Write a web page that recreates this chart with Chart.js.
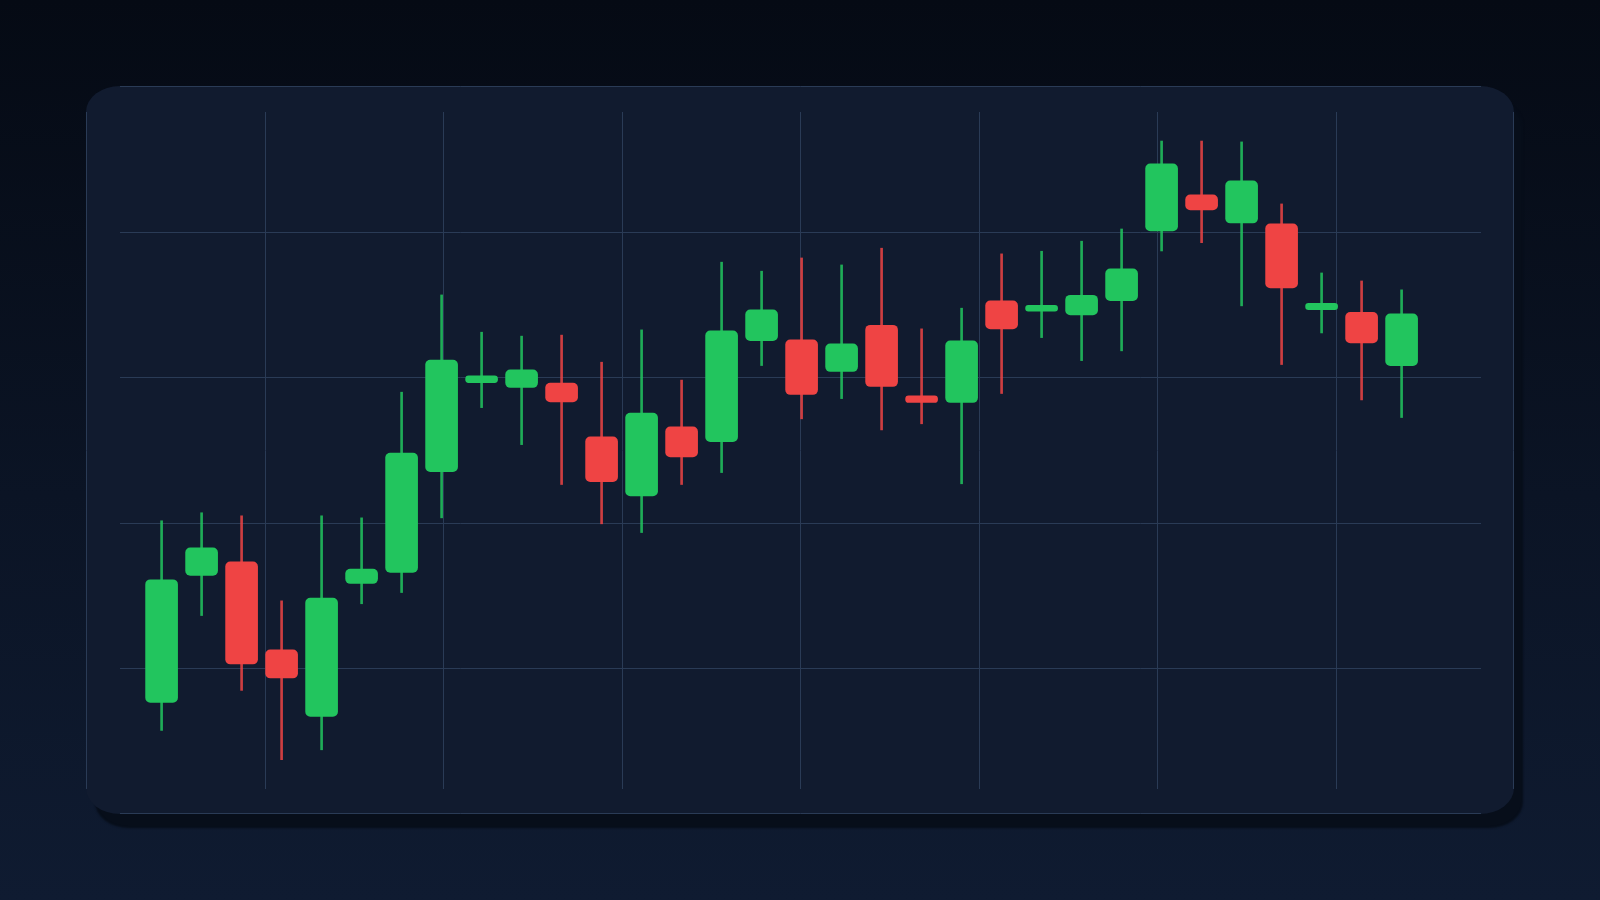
<!DOCTYPE html>
<html>
<head>
<meta charset="utf-8">
<script src="https://cdn.jsdelivr.net/npm/chart.js@4.4.0/dist/chart.umd.min.js"></script>
<style>
  html, body { margin: 0; padding: 0; }
  body {
    width: 1600px; height: 900px; overflow: hidden;
    background: linear-gradient(180deg, #050a14 0%, #0b1425 55%, #0f1b31 100%);
    font-family: Inter, "Noto Sans", sans-serif;
  }
  #card {
    position: absolute; left: 86px; top: 86px;
    width: 1428px; height: 728px;
    border-radius: 34px / 26px;
    background: #111b2f;
    box-shadow: 9px 14px 2px #070e1a;
    overflow: hidden;
  }
  #chart { display: block; }
</style>
</head>
<body>
<div id="card"><canvas id="chart" width="1428" height="728"></canvas></div>
<script>
// one candle per day
const days  = [1, 2, 3, 4, 5, 6, 7, 8, 9, 10, 11, 12, 13, 14, 15, 16,
               17, 18, 19, 20, 21, 22, 23, 24, 25, 26, 27, 28, 29, 30, 31, 32];
const open  = [107.66, 116.38, 117.32, 111.28, 106.70, 115.83, 116.59, 123.52, 129.63, 129.29, 129.59, 125.90, 121.85, 126.59, 125.58, 132.51,
               132.56, 130.39, 133.57, 128.72, 128.26, 135.24, 134.53, 134.28, 135.26, 140.05, 142.52, 140.59, 140.53, 134.64, 134.46, 130.80];
const close = [116.09, 118.28, 110.30, 109.34, 114.83, 116.82, 124.78, 131.17, 130.09, 130.50, 128.31, 122.83, 127.53, 124.53, 133.18, 134.62,
               128.81, 132.29, 129.36, 128.26, 132.49, 133.32, 134.94, 135.63, 137.44, 144.65, 141.49, 143.48, 136.13, 135.08, 132.36, 134.35];
const high  = [120.14, 120.69, 120.48, 114.64, 120.48, 120.34, 128.97, 135.65, 133.09, 132.82, 132.89, 131.03, 133.25, 129.80, 137.90, 137.28,
               138.19, 137.71, 138.86, 133.32, 134.74, 138.47, 138.65, 139.34, 140.18, 146.22, 146.22, 146.16, 141.90, 137.16, 136.61, 136.00];
const low   = [105.74, 113.63, 108.49, 103.73, 104.41, 114.44, 115.21, 120.34, 127.91, 125.37, 122.63, 119.93, 119.33, 122.63, 123.45, 130.80,
               127.14, 128.53, 126.38, 126.80, 122.68, 128.88, 132.72, 131.14, 131.81, 138.67, 139.24, 134.90, 130.87, 133.04, 128.44, 127.23];

// grid
const priceTicks = [100, 110, 120, 130, 140, 150];
const gridCols   = [0, 1, 2, 3, 4, 5, 6, 7, 8];

const UP = '#22c55e';
const DOWN = '#ef4444';
const UP_WICK = 'rgba(34, 197, 94, 0.85)';
const DOWN_WICK = 'rgba(239, 68, 68, 0.85)';
const GRID = '#2a3b56';

const isUp = open.map((o, i) => close[i] >= o);

const bodies = days.map((d, i) => ({ x: d, y: [open[i], close[i]] }));
const wicks  = days.map((d, i) => ({ x: d, y: [low[i], high[i]] }));

// grid lines stop short of the rounded corners
const insetGrid = {
  id: 'insetGrid',
  beforeDatasetsDraw(chart) {
    const { ctx, chartArea: a, scales } = chart;
    ctx.save();
    ctx.strokeStyle = GRID;
    ctx.lineWidth = 1;
    ctx.beginPath();
    gridCols.forEach(v => {
      let px = Math.round(scales.gx.getPixelForValue(v)) + 0.5;
      px = Math.min(Math.max(px, a.left + 0.5), a.right - 0.5);
      ctx.moveTo(px, a.top + 26);
      ctx.lineTo(px, a.bottom - 25);
    });
    priceTicks.forEach(v => {
      let py = Math.round(scales.y.getPixelForValue(v)) + 0.5;
      py = Math.min(Math.max(py, a.top + 0.5), a.bottom - 0.5);
      ctx.moveTo(a.left + 34, py);
      ctx.lineTo(a.right - 33, py);
    });
    ctx.stroke();
    ctx.restore();
  }
};

new Chart(document.getElementById('chart'), {
  type: 'bar',
  data: {
    datasets: [
      {
        label: 'body',
        data: bodies,
        backgroundColor: isUp.map(u => u ? UP : DOWN),
        barThickness: 32,
        borderRadius: 5,
        borderSkipped: false,
        grouped: false,
        order: 1
      },
      {
        label: 'wick',
        data: wicks,
        backgroundColor: isUp.map(u => u ? UP_WICK : DOWN_WICK),
        barThickness: 2,
        borderSkipped: false,
        grouped: false,
        order: 2
      }
    ]
  },
  options: {
    responsive: false,
    animation: false,
    devicePixelRatio: 1,
    layout: { padding: 0 },
    plugins: { legend: { display: false }, tooltip: { enabled: false } },
    scales: {
      x: { type: 'linear', min: -0.89, max: 34.81, offset: false, display: false, grid: { display: false } },
      gx: { type: 'linear', axis: 'x', position: 'bottom', min: 0, max: 8, offset: false, display: false },
      y: { type: 'linear', min: 100, max: 150, display: false, grid: { display: false } }
    }
  },
  plugins: [insetGrid]
});
</script>
</body>
</html>
